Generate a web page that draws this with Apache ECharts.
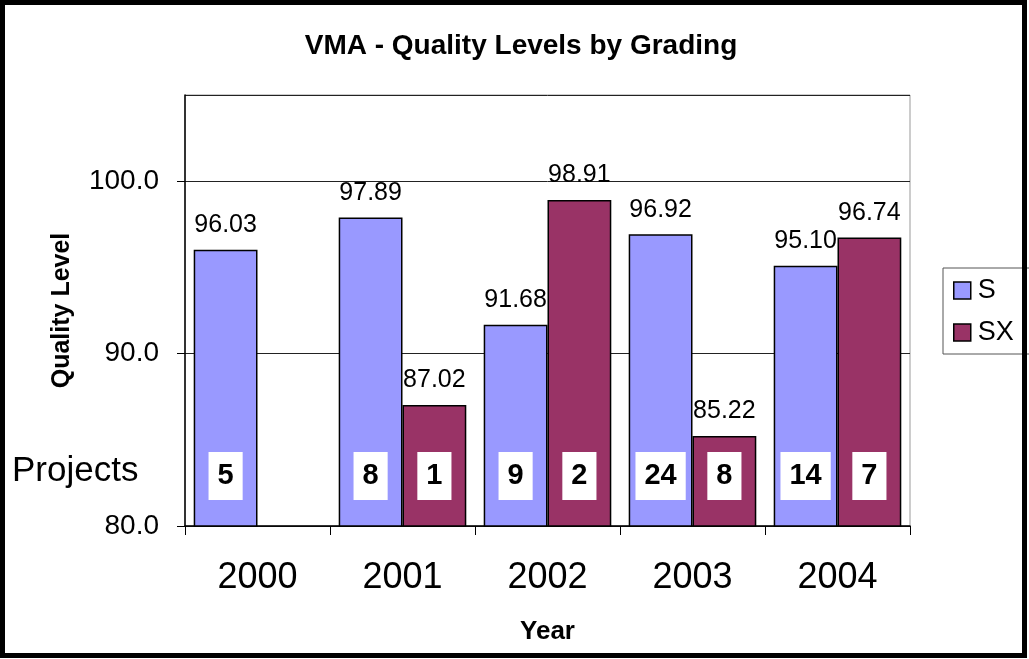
<!DOCTYPE html>
<html>
	<head>
		<meta charset="utf-8" />
		<script type="text/javascript" src="https://cdn.jsdelivr.net/npm/echarts@6/dist/echarts.min.js"></script>
		<title>VMA - Quality Levels by Grading</title>
		<style>
			html, body { margin: 0; padding: 0; background: #fff; }
		</style>
	</head>
	<body>
		<div id="chartmain" style="width:1029px; height:659px;"></div>
		<script type="text/javascript">
var years = ['2000', '2001', '2002', '2003', '2004'];
var sValues = [96.03, 97.89, 91.68, 96.92, 95.10];
var sxValues = [null, 87.02, 98.91, 85.22, 96.74];
var sProjects = [5, 8, 9, 24, 14];
var sxProjects = [null, 1, 2, 8, 7];

var font = 'Liberation Sans, Arial, sans-serif';

function countLabel(counts) {
  return {
    show: true,
    position: 'insideBottom',
    distance: 26,
    formatter: function (p) { return counts[p.dataIndex] == null ? '' : String(counts[p.dataIndex]); },
    backgroundColor: '#fff',
    padding: [9, 9],
    lineHeight: 30,
    fontSize: 29,
    fontWeight: 'bold',
    fontFamily: font,
    color: '#000'
  };
}

var valueLabel = {
  show: true,
  position: 'top',
  distance: 12,
  fontSize: 25,
  fontFamily: font,
  color: '#000',
  formatter: function (p) { return p.value.toFixed(2); }
};

option = {
  animation: false,
  backgroundColor: '#fff',
  title: {
    text: 'VMA - Quality Levels by Grading',
    left: 516,
    textAlign: 'center',
    top: 27,
    textStyle: { fontSize: 28, fontWeight: 'bold', fontFamily: font, color: '#000' }
  },
  legend: {
    data: ['S', 'SX'],
    orient: 'vertical',
    left: 943,
    top: 268,
    padding: [9, 16, 8, 10],
    itemGap: 15,
    itemWidth: 17,
    itemHeight: 17,
    icon: 'rect',
    borderColor: '#555',
    borderWidth: 1,
    itemStyle: { borderColor: '#000', borderWidth: 1.5 },
    textStyle: { fontSize: 27, fontFamily: font, color: '#000', padding: [0, 0, 0, 2] }
  },
  grid: {
    left: 185,
    right: 119,
    top: 95,
    bottom: 133,
    show: true,
    borderColor: '#999',
    borderWidth: 1
  },
  xAxis: [
    {
      type: 'category',
      data: years,
      name: 'Year',
      nameLocation: 'middle',
      nameGap: 93,
      nameTextStyle: { fontSize: 26, fontWeight: 'bold', fontFamily: font, color: '#000' },
      axisLine: { lineStyle: { color: '#000', width: 1.5 } },
      axisTick: { show: true, length: 9, lineStyle: { color: '#000' } },
      axisLabel: { margin: 34, fontSize: 36, fontFamily: font, color: '#000' }
    },
    {
      type: 'category',
      data: years,
      show: false
    }
  ],
  yAxis: {
    type: 'value',
    min: 80,
    max: 105,
    interval: 10,
    name: 'Quality Level',
    nameLocation: 'middle',
    nameGap: 110,
    nameTextStyle: { fontSize: 25, fontWeight: 'bold', fontFamily: font, color: '#000' },
    axisLine: { show: true, lineStyle: { color: '#000', width: 1.5 } },
    axisTick: { show: true, length: 8, lineStyle: { color: '#000' } },
    axisLabel: {
      margin: 26,
      fontSize: 28,
      fontFamily: font,
      color: '#000',
      showMaxLabel: false,
      formatter: function (v) { return v.toFixed(1); }
    },
    splitLine: { show: true, lineStyle: { color: '#222', width: 1 } }
  },
  series: [
    {
      name: 'S',
      type: 'bar',
      data: sValues,
      barGap: 0,
      barCategoryGap: '12%',
      itemStyle: { color: '#9999FF', borderColor: '#000', borderWidth: 1.5 },
      label: valueLabel
    },
    {
      name: 'SX',
      type: 'bar',
      data: sxValues,
      itemStyle: { color: '#993366', borderColor: '#000', borderWidth: 1.5 },
      label: valueLabel
    },
    {
      name: 'S projects',
      type: 'bar',
      xAxisIndex: 1,
      data: sValues,
      barGap: 0,
      barCategoryGap: '12%',
      z: 5,
      silent: true,
      itemStyle: { color: 'rgba(0,0,0,0)' },
      label: countLabel(sProjects)
    },
    {
      name: 'SX projects',
      type: 'bar',
      xAxisIndex: 1,
      data: sxValues,
      z: 5,
      silent: true,
      itemStyle: { color: 'rgba(0,0,0,0)' },
      label: countLabel(sxProjects)
    }
  ],
  graphic: [
    {
      type: 'text',
      left: 12,
      top: 454,
      style: { text: 'Projects', fontSize: 35, fontFamily: font, fill: '#000' }
    },
    {
      type: 'rect',
      z: 100,
      shape: { x: 2.5, y: 2.5, width: 1022, height: 653 },
      style: { fill: 'none', stroke: '#000', lineWidth: 5 }
    }
  ]
};

var myChart = echarts.init(document.getElementById('chartmain'));
myChart.setOption(option);
		</script>
	</body>
</html>
